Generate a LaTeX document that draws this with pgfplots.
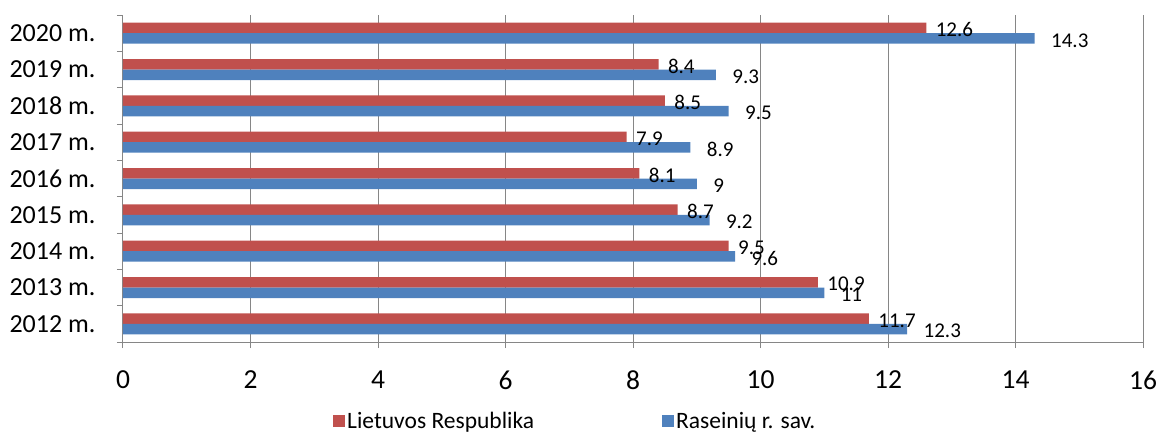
\documentclass[border=0pt]{standalone}
\usepackage{pgfplots}
\pgfplotsset{compat=1.18}
\usepackage{fontspec}
\setmainfont{Carlito}
\definecolor{cred}{HTML}{C0504D}
\definecolor{cblue}{HTML}{4F81BD}
\definecolor{cgrid}{HTML}{868686}
\begin{document}
\begin{tikzpicture}
\begin{axis}[
  name=ax,
  scale only axis,
  width=1020pt, height=327pt,
  xbar, bar width=10.5pt,
  xmin=0, xmax=16,
  ymin=-0.5, ymax=8.5,
  xtick={0,2,...,16},
  ytick={0,...,8},
  yticklabels={2012 m.,2013 m.,2014 m.,2015 m.,2016 m.,2017 m.,2018 m.,2019 m.,2020 m.},
  minor ytick={-0.5,0.5,...,8.5},
  axis x line*=bottom, axis y line*=left,
  axis line style={cgrid, line width=1pt, -},
  xmajorgrids, major grid style={cgrid, line width=1pt},
  tick align=outside,
  major tick length=6pt, minor tick length=6pt,
  y tick style={draw=none},
  minor y tick style={draw=cgrid, line width=1pt},
  x tick style={draw=cgrid, line width=1pt},
  /pgf/number format/assume math mode=true,
  tick label style={font=\fontsize{27.5}{31}\selectfont, black},
  x tick label style={yshift=-19pt},
  y tick label style={xshift=-18pt, font=\fontsize{26}{30}\selectfont},
  nodes near coords,
  every node near coord/.append style={font=\fontsize{21}{24}\selectfont, black, anchor=west},
  legend style={at={(0.4434,-0.2416)}, anchor=center, draw=none, legend columns=2,
    font=\fontsize{23.5}{26}\selectfont, /tikz/every even column/.append style={column sep=126pt}},
  legend image code/.code={\fill[#1] (-3pt,-6pt) rectangle (9pt,6pt);},
]
\addplot[fill=cred, draw=none, bar shift=5.25pt,
  every node near coord/.append style={xshift=6pt, yshift=-2pt}]
  coordinates {(11.7,0) (10.9,1) (9.5,2) (8.7,3) (8.1,4) (7.9,5) (8.5,6) (8.4,7) (12.6,8)};
\addlegendentry{Lietuvos Respublika}
\addplot[fill=cblue, draw=none, bar shift=-5.25pt,
  every node near coord/.append style={xshift=13pt, yshift=-2pt}]
  coordinates {(12.3,0) (11,1) (9.6,2) (9.2,3) (9,4) (8.9,5) (9.5,6) (9.3,7) (14.3,8)};
\addlegendentry{Raseinių r. sav.}
\end{axis}
\pgfresetboundingbox
\path ([xshift=-123pt,yshift=15pt]ax.north west) rectangle ([xshift=17pt,yshift=-91pt]ax.south east);
\end{tikzpicture}
\end{document}
